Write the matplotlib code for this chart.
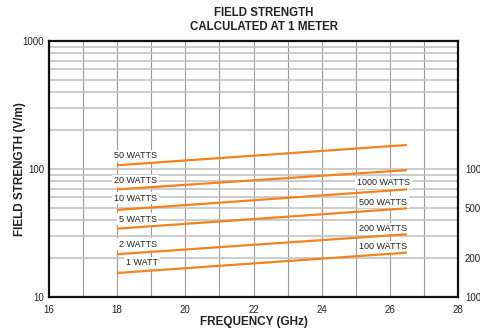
import matplotlib
matplotlib.use("Agg")
import matplotlib.pyplot as plt
from matplotlib.ticker import FixedLocator, NullFormatter
import numpy as np

plt.rcParams['font.family'] = ['Liberation Sans', 'DejaVu Sans']

# Data: field strength (V/m) at 1 m
freq = [18.0, 26.5]  # GHz, start and end of each line
series_names = ["50 WATTS", "20 WATTS", "10 WATTS", "5 WATTS", "2 WATTS", "1 WATT"]
field_50w = [107, 154]
field_20w = [69.3, 98]
field_10w = [47.9, 69.3]
field_5w = [34.2, 49.3]
field_2w = [21.6, 30.9]
field_1w = [15.4, 22.2]
right_names = ["1000 WATTS", "500 WATTS", "200 WATTS", "100 WATTS"]
x_ticks = [16, 18, 20, 22, 24, 26, 28]
y_ticks = [10, 100, 1000]
right_ticks = [100, 200, 500, 1000]

series = [field_50w, field_20w, field_10w, field_5w, field_2w, field_1w]

# label layout (x, y in data coords)
left_label_pos = [(17.91, 127), (17.91, 81.1), (17.91, 59.3), (18.05, 40.6), (18.05, 25.9), (18.26, 18.5)]
right_label_pos = [(25.04, 78.2), (25.10, 55.2), (25.10, 34.2), (25.10, 24.7)]

orange = "#F5821F"

fig = plt.figure(figsize=(4.8, 3.36), dpi=100)
ax = fig.add_axes([49/480, 1-297/336, (458-49)/480, (297-41)/336])

ax.set_yscale('log')
ax.set_xlim(16, 28)
ax.set_ylim(10, 1000)

# grids
for xv in np.arange(17, 28, 1):
    ax.axvline(xv, color="#9a9a9a", lw=0.8, zorder=1)
for dec in [10, 100]:
    for m in range(1, 10):
        yv = dec * m
        if 10 < yv < 1000:
            ax.axhline(yv, color="#c4c4c4", lw=1.2, zorder=1)

for vals in series:
    ax.plot(freq, vals, color=orange, lw=1.6, zorder=4, solid_capstyle='butt')

for name, (lx, ly) in zip(series_names, left_label_pos):
    ax.text(lx, ly, name, fontsize=6.5, color="#222222", ha='left', va='center', zorder=3,
            bbox=dict(facecolor='white', edgecolor='none', pad=1.2))
for name, (lx, ly) in zip(right_names, right_label_pos):
    ax.text(lx, ly, name, fontsize=6.5, color="#222222", ha='left', va='center', zorder=3,
            bbox=dict(facecolor='white', edgecolor='none', pad=1.2))

ax.xaxis.set_major_locator(FixedLocator(x_ticks))
ax.set_xticklabels([str(t) for t in x_ticks])
ax.yaxis.set_major_locator(FixedLocator(y_ticks))
ax.set_yticklabels([str(t) for t in y_ticks])
ax.yaxis.set_minor_formatter(NullFormatter())
ax.tick_params(axis='both', which='both', length=0, labelsize=7, labelcolor="#222222")
ax.tick_params(axis='x', pad=6)
ax.tick_params(axis='y', pad=3.5)

for sp in ax.spines.values():
    sp.set_linewidth(1.6)
    sp.set_color("#111111")
    sp.set_zorder(5)

ax2 = ax.twinx()
ax2.set_yscale('log')
ax2.set_ylim(100, 10000)
ax2.yaxis.set_major_locator(FixedLocator(right_ticks))
ax2.set_yticklabels([str(t) for t in right_ticks])
ax2.yaxis.set_minor_formatter(NullFormatter())
ax2.yaxis.set_minor_locator(FixedLocator([]))
ax2.tick_params(axis='y', which='both', length=0, labelsize=7, labelcolor="#222222", pad=5)
for sp in ax2.spines.values():
    sp.set_visible(False)

fig.text(264/480, 1-12.5/336, "FIELD STRENGTH", ha='center', va='center', fontsize=8.3, fontweight='bold', color="#222222")
fig.text(264/480, 1-27/336, "CALCULATED AT 1 METER", ha='center', va='center', fontsize=8.3, fontweight='bold', color="#222222")
fig.text(253.5/480, 1-322/336, "FREQUENCY (GHz)", ha='center', va='center', fontsize=8.5, fontweight='bold', color="#222222")
fig.text(20/480, 1-169/336, "FIELD STRENGTH (V/m)", ha='center', va='center', rotation=90, fontsize=8.5, fontweight='bold', color="#222222")

fig.savefig("out.png", dpi=100)
